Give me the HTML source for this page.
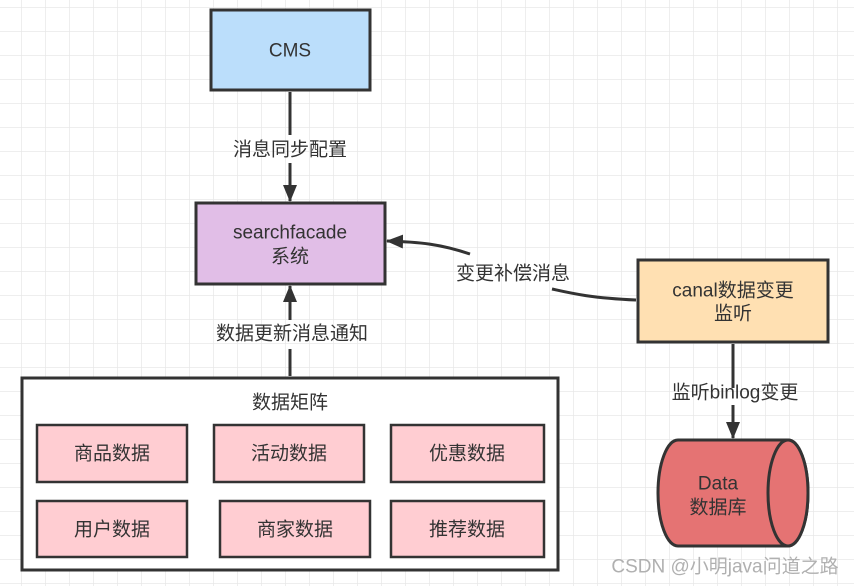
<!DOCTYPE html>
<html><head><meta charset="utf-8"><style>
body{margin:0;background:#fff}
svg{display:block}
text{font-family:"Liberation Sans","Noto Sans CJK SC",sans-serif;fill:#333;font-size:19px;text-anchor:middle;dominant-baseline:central}
</style></head><body>
<svg width="854" height="586" xmlns="http://www.w3.org/2000/svg">
<defs>
<pattern id="g" x="21" y="7" width="24" height="24" patternUnits="userSpaceOnUse">
<path d="M0 0V24M0 0H24" stroke="#e8e8e8" stroke-width="1.5" fill="none"/>
</pattern>
<marker id="a" markerWidth="18" markerHeight="16" refX="16" refY="8" orient="auto" markerUnits="userSpaceOnUse" viewBox="0 0 18 16"><path d="M0 1L17 8L0 15z" fill="#333"/></marker>
</defs>
<rect width="854" height="586" fill="url(#g)"/>
<g stroke="#333" stroke-width="3">
<rect x="211" y="10" width="159" height="80" fill="#bbdefb"/>
<rect x="196" y="203" width="189" height="81" fill="#e1bee7"/>
<rect x="638" y="260" width="190" height="82" fill="#ffe0b2"/>
<rect x="22" y="378" width="536" height="192" fill="#fff"/>
<g fill="#ffcdd2" stroke-width="2.5">
<rect x="37" y="425" width="150" height="57"/>
<rect x="214" y="425" width="150" height="57"/>
<rect x="391" y="425" width="153" height="57"/>
<rect x="37" y="501" width="150" height="56"/>
<rect x="220" y="501" width="150" height="56"/>
<rect x="391" y="501" width="153" height="56"/>
</g>
<path d="M678 440H788A20 53 0 0 1 788 546H678A20 53 0 0 1 678 440Z" fill="#e57373"/>
<ellipse cx="788" cy="493" rx="20" ry="53" fill="#e57373"/>
<g fill="none" stroke-width="3">
<path d="M290 92V135M290 163V201" marker-end="url(#a)"/>
<path d="M290 376V349M290 320V286" marker-end="url(#a)"/>
<path d="M733 344V388M733 405V438" marker-end="url(#a)"/>
<path d="M636 300C590 298 570 293 552 289M470 254C440 244 420 242 387 241" marker-end="url(#a)"/>
</g>
</g>
<text x="290" y="51" font-size="20">CMS</text>
<text x="290" y="233">searchfacade</text>
<text x="290" y="257">系统</text>
<text x="733" y="291">canal数据变更</text>
<text x="733" y="314">监听</text>
<text x="290" y="150">消息同步配置</text>
<text x="292" y="334">数据更新消息通知</text>
<text x="513" y="274">变更补偿消息</text>
<text x="735" y="393">监听binlog变更</text>
<text x="290" y="403">数据矩阵</text>
<text x="112" y="454">商品数据</text>
<text x="289" y="454">活动数据</text>
<text x="467" y="454">优惠数据</text>
<text x="112" y="530">用户数据</text>
<text x="295" y="530">商家数据</text>
<text x="467" y="530">推荐数据</text>
<text x="718" y="484">Data</text>
<text x="718" y="508">数据库</text>
<text x="725" y="567" font-size="16" style="fill:#b0b0b0">CSDN @小明java问道之路</text>
</svg>
</body></html>
